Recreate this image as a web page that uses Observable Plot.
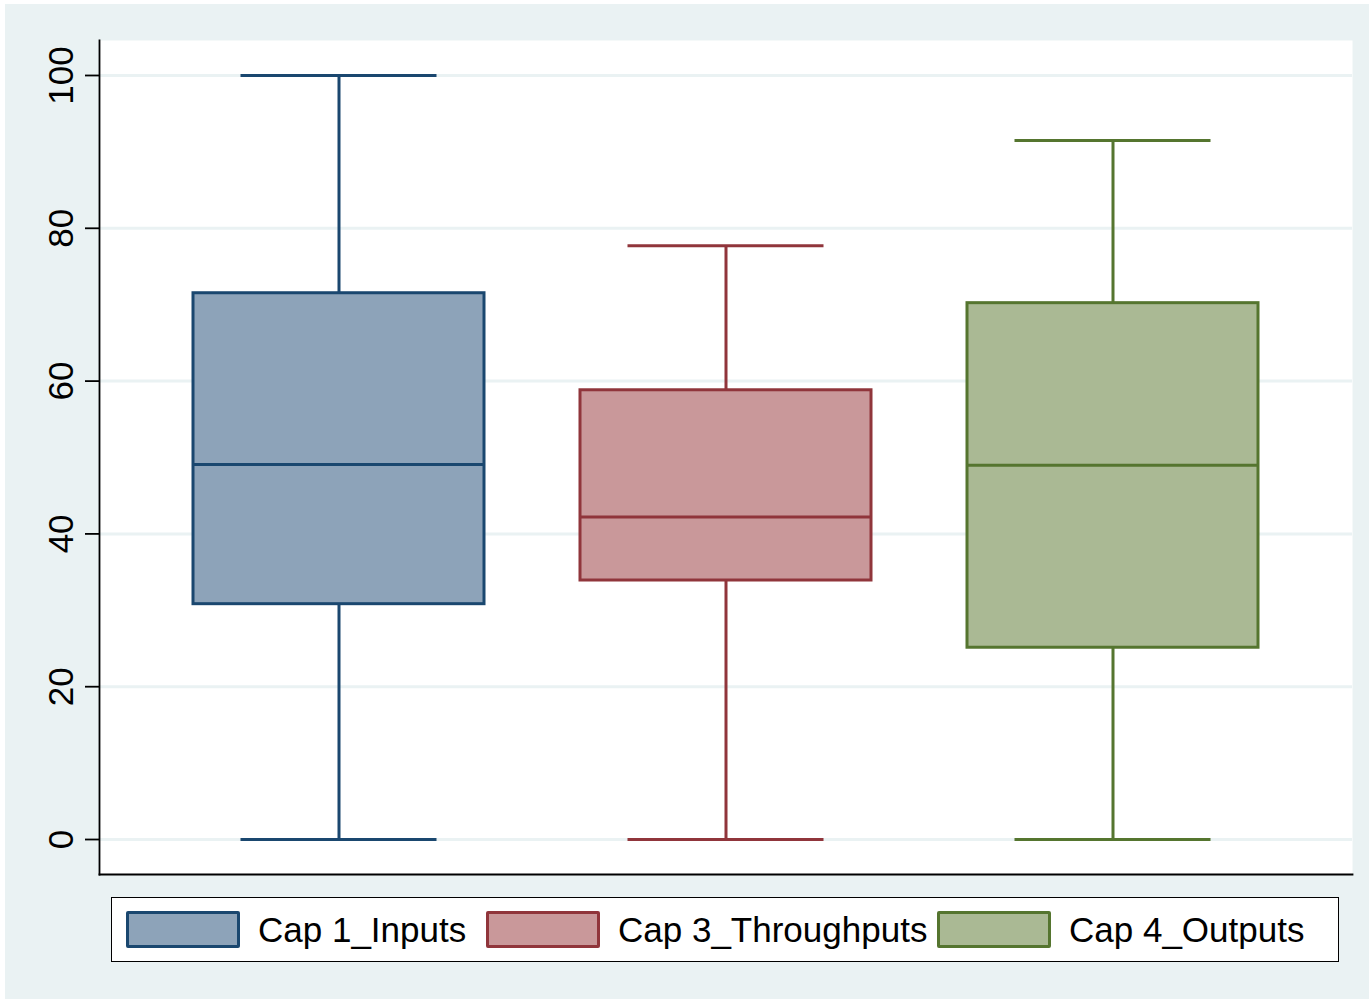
<!DOCTYPE html>
<html>
<head>
<meta charset="utf-8">
<script src="https://cdn.jsdelivr.net/npm/d3@7"></script>
<script src="https://cdn.jsdelivr.net/npm/@observablehq/plot@0.6"></script>
<style>
  html, body { margin: 0; padding: 0; background: #ffffff; }
  #page { position: relative; width: 1369px; height: 1003px; overflow: hidden; background: #ffffff; font-family: "Liberation Sans", Arial, sans-serif; }
  #bg { position: absolute; left: 5px; top: 4px; width: 1364px; height: 995px; background: #EAF2F3; }
  #chart { position: absolute; left: 0; top: 0; }
  #chart svg { background: transparent !important; }
  #legend { position: absolute; left: 111px; top: 897px; width: 1226px; height: 63px; border: 1.5px solid #000; background: #fff; }
  .item { position: absolute; top: 0; height: 63px; display: flex; align-items: center; }
  .sw { width: 114px; height: 37px; box-sizing: border-box; border: 3px solid; border-radius: 2px; margin-right: 18px; }
  .lab { font-size: 35px; color: #000; white-space: nowrap; }
</style>
</head>
<body>
<div id="page">
  <div id="bg"></div>
  <div id="chart"></div>
  <div id="legend"></div>
</div>
<script>
// ---- data ----
const categories = ["Cap 1_Inputs", "Cap 3_Throughputs", "Cap 4_Outputs"];
const minVals    = [0, 0, 0];
const q1Vals     = [30.8, 33.9, 25.1];
const medianVals = [49.1, 42.2, 49.0];
const q3Vals     = [71.5, 58.8, 70.2];
const maxVals    = [100, 77.7, 91.5];
const yTicks     = [0, 20, 40, 60, 80, 100];

// ---- styles ----
const fills   = ["#8DA3B9", "#C9989A", "#AAB994"];
const strokes = ["#1A476F", "#90353B", "#55752F"];

const rows = categories.map((c, i) => ({
  cat: c, min: minVals[i], q1: q1Vals[i], med: medianVals[i], q3: q3Vals[i], max: maxVals[i],
  fill: fills[i], stroke: strokes[i]
}));

const plot = Plot.plot({
  width: 1369,
  height: 890,
  marginLeft: 99,
  marginRight: 17,
  marginTop: 40,
  marginBottom: 16,
  style: { background: "transparent", fontFamily: "Liberation Sans, Arial, sans-serif" },
  x: { type: "band", domain: categories, paddingInner: 0.249, paddingOuter: 0.241, axis: null },
  y: { domain: [-4.58, 104.58], ticks: yTicks },
  marks: [
    Plot.frame({ fill: "white", stroke: null }),
    Plot.gridY(yTicks, { stroke: "#EAF2F3", strokeOpacity: 1, strokeWidth: 3 }),
    Plot.ruleX(rows, { x: "cat", y1: "min", y2: "max", stroke: "stroke", strokeWidth: 3 }),
    Plot.barY(rows, { x: "cat", y1: "q1", y2: "q3", fill: "fill", stroke: "stroke", strokeWidth: 3 }),
    Plot.tickY(rows, { x: "cat", y: "med", stroke: "stroke", strokeWidth: 3 }),
    Plot.tickY(rows, { x: "cat", y: "min", stroke: "stroke", strokeWidth: 3, insetLeft: 47.5, insetRight: 47.5 }),
    Plot.tickY(rows, { x: "cat", y: "max", stroke: "stroke", strokeWidth: 3, insetLeft: 47.5, insetRight: 47.5 }),
    Plot.frame({ anchor: "left", stroke: "#000", strokeWidth: 1.8 }),
    Plot.frame({ anchor: "bottom", stroke: "#000", strokeWidth: 1.8 }),
    Plot.axisY(yTicks, {
      tickSize: 14, tickRotate: -90, tickPadding: 13, fontSize: 35,
      stroke: "#000", strokeWidth: 1.8, fill: "#000", label: null
    })
  ]
});
document.getElementById("chart").appendChild(plot);

// ---- legend ----
const legend = document.getElementById("legend");
const itemLefts = [14, 374, 825];
categories.forEach((c, i) => {
  const it = document.createElement("div");
  it.className = "item";
  it.style.left = itemLefts[i] + "px";
  const sw = document.createElement("div");
  sw.className = "sw";
  sw.style.background = fills[i];
  sw.style.borderColor = strokes[i];
  const lab = document.createElement("div");
  lab.className = "lab";
  lab.textContent = c;
  it.appendChild(sw);
  it.appendChild(lab);
  legend.appendChild(it);
});
</script>
</body>
</html>
